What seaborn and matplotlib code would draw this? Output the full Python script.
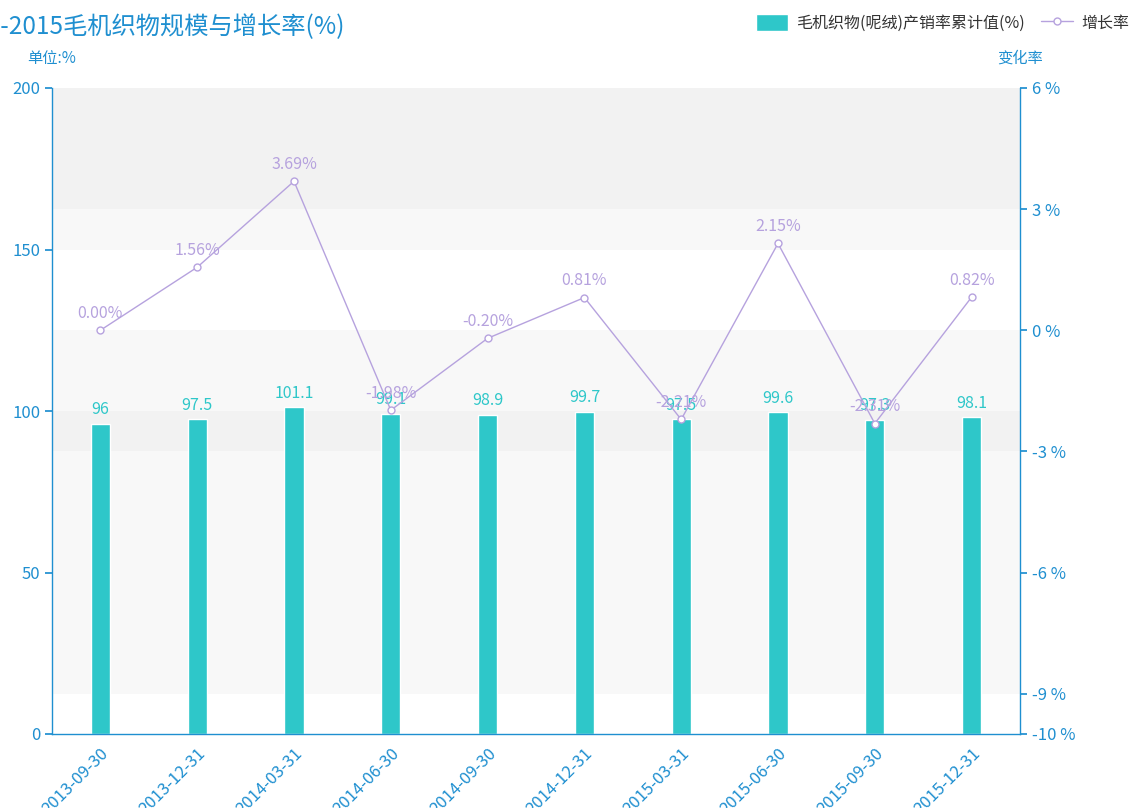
import matplotlib
matplotlib.use("Agg")
import matplotlib.pyplot as plt
import seaborn as sns
import pandas as pd

# 数据
dates = ['2013-09-30', '2013-12-31', '2014-03-31', '2014-06-30', '2014-09-30',
         '2014-12-31', '2015-03-31', '2015-06-30', '2015-09-30', '2015-12-31']
sales_rate = [96, 97.5, 101.1, 99.1, 98.9, 99.7, 97.5, 99.6, 97.3, 98.1]
growth = [0.00, 1.56, 3.69, -1.98, -0.20, 0.81, -2.21, 2.15, -2.31, 0.82]
right_ticks = [6, 3, 0, -3, -6, -9, -10]

bar_color = '#2ec7c9'
line_color = '#b6a2de'
axis_color = '#1f8fd0'

sns.set_theme(style='white')
plt.rcParams['font.family'] = ['Noto Sans CJK SC', 'DejaVu Sans']

df = pd.DataFrame({'date': dates, 'value': sales_rate, 'growth': growth})

fig = plt.figure(figsize=(11.37, 8.08), dpi=100)
ax = fig.add_axes([52 / 1137, 74 / 808, 968 / 1137, 646 / 808])

# 背景条纹
bands = [(0, 12.5, '#ffffff'), (12.5, 87.5, '#f8f8f8'), (87.5, 100, '#f2f2f2'),
         (100, 125, '#f8f8f8'), (125, 150, '#ffffff'), (150, 162.5, '#f8f8f8'),
         (162.5, 200, '#f2f2f2')]
for lo, hi, c in bands:
    ax.axhspan(lo, hi, color=c, zorder=0, lw=0)

sns.barplot(data=df, x='date', y='value', color=bar_color, width=0.2,
            saturation=1, ax=ax, zorder=2, label='毛机织物(呢绒)产销率累计值(%)')
for i, v in enumerate(sales_rate):
    ax.annotate(f'{v:g}', (i, v), xytext=(0, 4), textcoords='offset points',
                ha='center', va='bottom', color=bar_color, fontsize=11.5, zorder=5)

ax.set_ylim(0, 200)
ax.set_xlim(-0.5, len(dates) - 0.5)
ax.set_yticks([0, 50, 100, 150, 200])
ax.set_xlabel('')
ax.set_ylabel('')
ax.set_xticks(range(len(dates)))
ax.set_xticklabels(dates, rotation=45, ha='right', rotation_mode='anchor',
                   color=axis_color, fontsize=12)
ax.tick_params(axis='x', length=0, pad=8)
ax.set_xticks([i - 0.5 for i in range(len(dates) + 1)], minor=True)
ax.tick_params(axis='x', which='minor', length=5, color=axis_color, width=1)
ax.tick_params(axis='y', colors=axis_color, labelsize=12, length=5, left=True)
for s in ['left', 'bottom']:
    ax.spines[s].set_color(axis_color)
    ax.spines[s].set_linewidth(1)
ax.spines['top'].set_visible(False)
ax.spines['right'].set_visible(False)

ax2 = ax.twinx()
sns.lineplot(x=list(range(len(dates))), y=growth, ax=ax2, color=line_color,
             linewidth=1, marker='o', markersize=5, markerfacecolor='white',
             markeredgecolor=line_color, markeredgewidth=1, label='增长率',
             legend=False, zorder=4)
for i, g in enumerate(growth):
    ax2.annotate(f'{g:.2f}%', (i, g), xytext=(0, 6), textcoords='offset points',
                 ha='center', va='bottom', color=line_color, fontsize=11.5, zorder=5)
ax2.set_ylim(-10, 6)
ax2.set_yticks(right_ticks)
ax2.set_yticklabels([f'{t} %' for t in right_ticks])
ax2.tick_params(axis='y', colors=axis_color, labelsize=12, length=5, right=True)
ax2.spines['right'].set_color(axis_color)
ax2.spines['right'].set_linewidth(1)
for s in ['left', 'top', 'bottom']:
    ax2.spines[s].set_visible(False)
ax2.set_xlim(-0.5, len(dates) - 0.5)

fig.text(345 / 1137, 1 - 27 / 808, '2013-2015毛机织物规模与增长率(%)', ha='right',
         va='center', color=axis_color, fontsize=17.5)
fig.text(52 / 1137, 1 - 58 / 808, '单位:%', ha='center', va='center',
         color=axis_color, fontsize=11)
fig.text(1020 / 1137, 1 - 58 / 808, '变化率', ha='center', va='center',
         color=axis_color, fontsize=11)

h1, l1 = ax.get_legend_handles_labels()
h2, l2 = ax2.get_legend_handles_labels()
if ax.get_legend() is not None:
    ax.get_legend().remove()
fig.legend(h1 + h2, l1 + l2, loc='center right', bbox_to_anchor=(1.0, 1 - 23 / 808),
           ncol=2, frameon=False, fontsize=11.5, handlelength=2.0, handleheight=1.3,
           columnspacing=1.0, handletextpad=0.5, labelcolor='#333333',
           borderaxespad=0.1)

fig.savefig('out.png', dpi=100)
